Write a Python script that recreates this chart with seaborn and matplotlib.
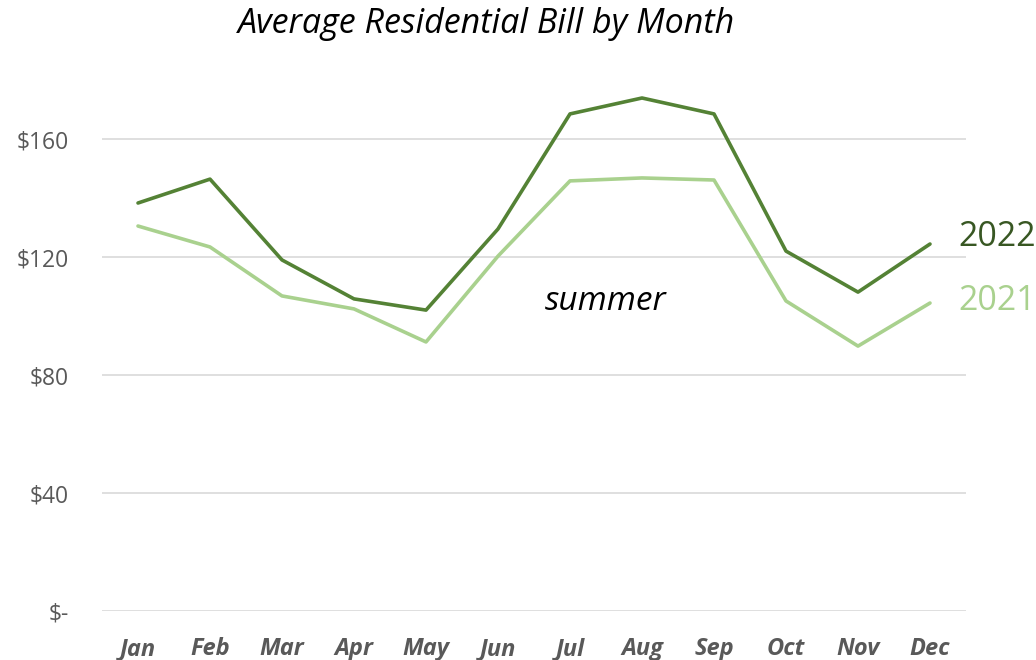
import matplotlib
matplotlib.use("Agg")
import matplotlib.pyplot as plt
import pandas as pd
import seaborn as sns

# data
months = ["Jan", "Feb", "Mar", "Apr", "May", "Jun",
          "Jul", "Aug", "Sep", "Oct", "Nov", "Dec"]
bill_2022 = [138.3, 146.4, 119.0, 105.8, 102.0, 129.5,
             168.5, 173.9, 168.5, 122.0, 108.1, 124.4]
bill_2021 = [130.5, 123.4, 106.8, 102.4, 91.2, 120.3,
             145.8, 146.8, 146.1, 105.1, 89.8, 104.4]
y_ticks = [0, 40, 80, 120, 160]
y_tick_labels = ["$-", "$40", "$80", "$120", "$160"]

dark_green = "#548235"
light_green = "#A9D18E"

sns.set_theme(style="white")
plt.rcParams["font.family"] = ["Open Sans", "DejaVu Sans"]

df = pd.DataFrame({
    "month": months * 2,
    "bill": bill_2022 + bill_2021,
    "year": ["2022"] * 12 + ["2021"] * 12,
})

fig = plt.figure(figsize=(10.36, 6.6), dpi=100)
ax = fig.add_axes([102 / 1036, 49 / 660, 864 / 1036, 531 / 660])

sns.lineplot(data=df, x="month", y="bill", hue="year",
             palette={"2022": dark_green, "2021": light_green},
             hue_order=["2021", "2022"], linewidth=2.6,
             legend=False, ax=ax, sort=False)

ax.set_xlim(-0.5, 11.5)
ax.set_ylim(0, 180)
ax.set_yticks(y_ticks)
ax.set_yticklabels(y_tick_labels)
ax.grid(axis="y", color="#D9D9D9", linewidth=1.2)
ax.set_axisbelow(True)
for s in ax.spines.values():
    s.set_visible(False)
ax.set_xlabel("")
ax.set_ylabel("")
ax.tick_params(axis="y", length=0, pad=24, labelsize=16.5, labelcolor="#595959")
ax.tick_params(axis="x", length=0, pad=19, labelsize=17, labelcolor="#595959")
for lbl in ax.get_xticklabels():
    lbl.set_fontweight("bold")
    lbl.set_fontstyle("italic")

fig.text(487 / 1036, 1 - 24 / 660, "Average Residential Bill by Month",
         ha="center", va="center", fontsize=24.5, fontstyle="italic", color="black")
ax.text(6.49, 105, "summer", ha="center", va="center",
        fontsize=24, fontstyle="italic", color="black")
ax.text(11.4, 126.8, "2022", ha="left", va="center",
        fontsize=24.5, color="#385723", clip_on=False)
ax.text(11.4, 105, "2021", ha="left", va="center",
        fontsize=24.5, color=light_green, clip_on=False)

plt.savefig("out.png", dpi=100)
